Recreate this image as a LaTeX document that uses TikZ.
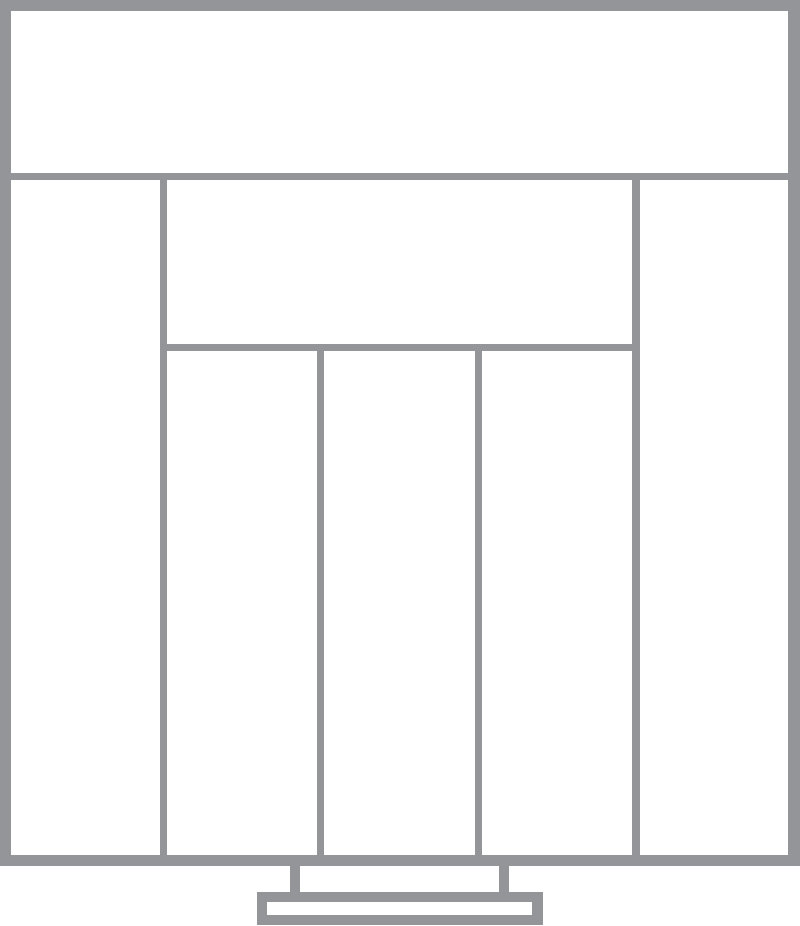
\documentclass[tikz,border=0pt]{standalone}
\usepackage{tikz}
\usetikzlibrary{calc}
\definecolor{traygray}{RGB}{147,149,152}
\tikzstyle{frame}=[draw=traygray,line width=0.11cm]
\tikzstyle{divider}=[draw=traygray,line width=0.07cm]
\tikzstyle{handle}=[draw=traygray,line width=0.10cm]

\begin{document}
\begin{tikzpicture}[x=0.01cm,y=-0.01cm]
     \useasboundingbox (0,0) rectangle (800,926);

     % dividers
     \draw[divider] (5,176.5) -- (795,176.5);
     \draw[divider] (163.5,176.5) -- (163.5,860);
     \draw[divider] (636,176.5) -- (636,860);
     \draw[divider] (163.5,347.5) -- (636,347.5);
     \draw[divider] (320.5,347.5) -- (320.5,860);
     \draw[divider] (478.5,347.5) -- (478.5,860);

     % handle
     \draw[handle] (295,860) -- (295,897);
     \draw[handle] (504,860) -- (504,897);
     \draw[handle] (262,897) rectangle (537.5,919.5);

     % tray
     \draw[frame] (5.5,5.5) rectangle (794,860.5);
    \end{tikzpicture}
\end{document}
